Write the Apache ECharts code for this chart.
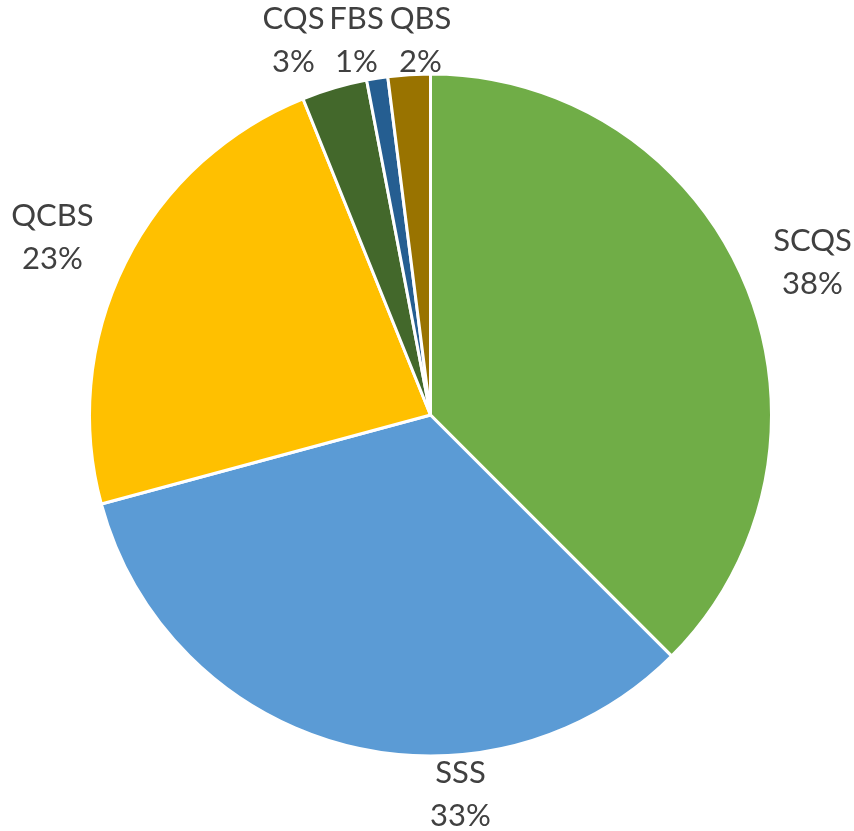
<!DOCTYPE html>
<html>
<head>
<meta charset="utf-8">
<script src="https://cdn.jsdelivr.net/npm/echarts@6/dist/echarts.min.js"></script>
<style>
html,body{margin:0;padding:0;background:#fff;}
#chart{width:854px;height:831px;}
</style>
</head>
<body>
<div id="chart"></div>
<script>
const categories = ['SCQS', 'SSS', 'QCBS', 'CQS', 'FBS', 'QBS'];
const values = [37.5, 33.3, 23.1, 3.1, 1.0, 2.0];
const colors = ['#70AD47', '#5B9BD5', '#FFC000', '#43682B', '#255E91', '#997300'];
// label block centres, as offsets from the pie centre (layout only)
const labelOffsets = [[382, -153], [30, 379], [-378, -178], [-137, -375], [-74, -375], [-10, -375]];

const cx = 430.5, cy = 415, radius = 341;

const chart = echarts.init(document.getElementById('chart'), null, {renderer: 'canvas'});
chart.setOption({
  animation: false,
  backgroundColor: '#ffffff',
  series: [{
    type: 'pie',
    center: [cx, cy],
    radius: radius,
    startAngle: 90,
    clockwise: true,
    avoidLabelOverlap: false,
    silent: true,
    data: categories.map((c, i) => ({
      name: c,
      value: values[i],
      itemStyle: {color: colors[i]}
    })),
    itemStyle: {borderColor: '#ffffff', borderWidth: 3},
    label: {
      show: true,
      position: 'outside',
      formatter: p => p.name + '\n' + Math.round(p.percent) + '%',
      color: '#404040',
      fontFamily: 'Lato',
      fontSize: 31,
      lineHeight: 43,
      align: 'center'
    },
    labelLine: {show: false},
    labelLayout: function (params) {
      const o = labelOffsets[params.dataIndex];
      return {x: cx + o[0], y: cy + o[1], align: 'center', verticalAlign: 'middle'};
    }
  }]
});
</script>
</body>
</html>
